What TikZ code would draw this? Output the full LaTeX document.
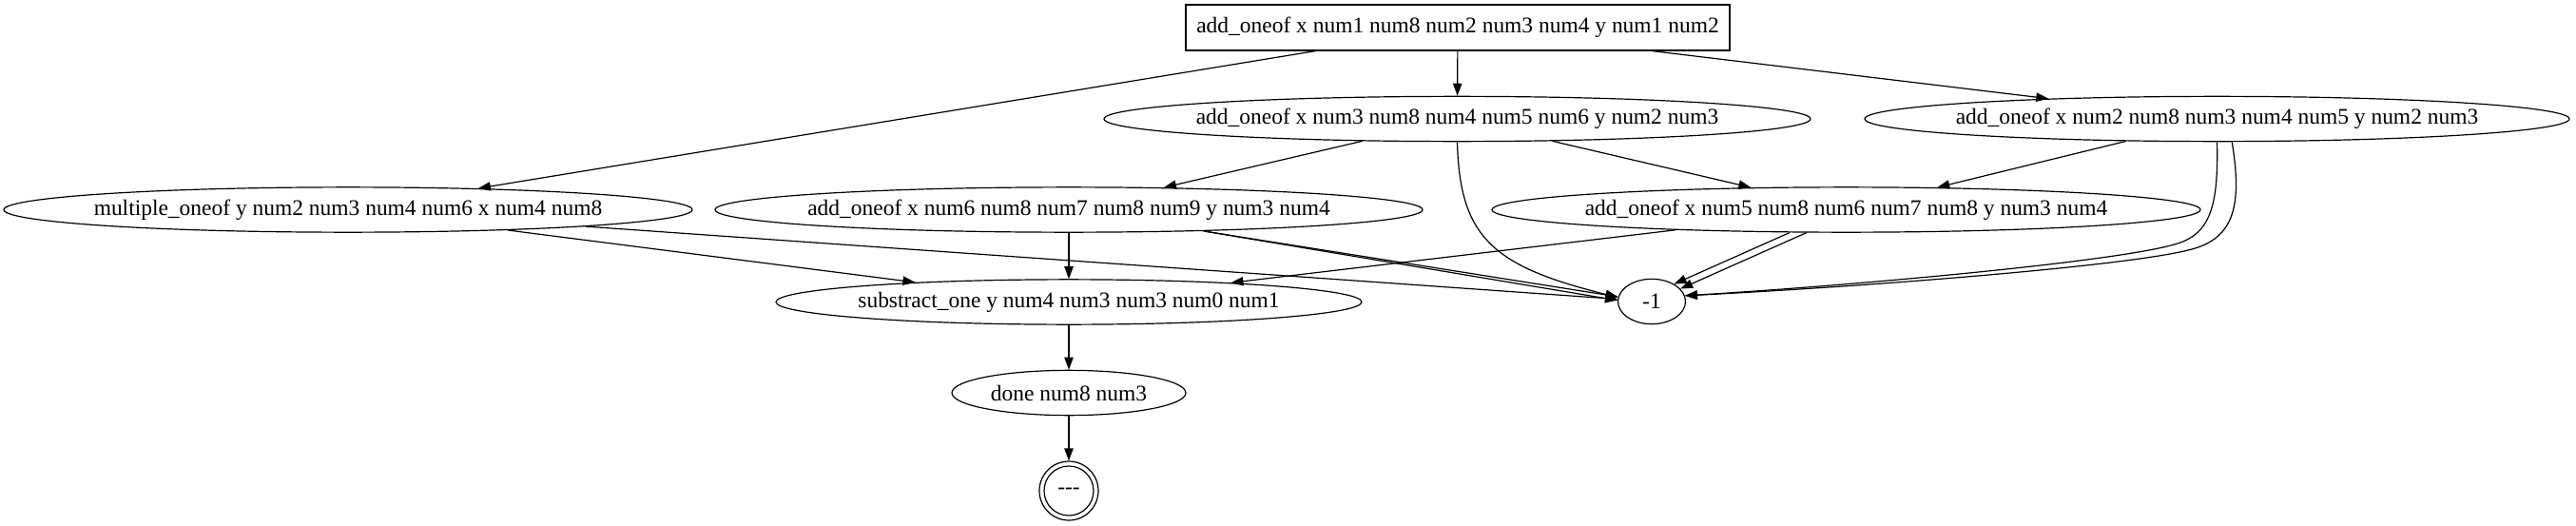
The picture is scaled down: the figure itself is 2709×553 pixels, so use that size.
\documentclass[tikz,border=0pt]{standalone}
\usepackage{fontspec}
\setmainfont{Liberation Serif}
\usetikzlibrary{shapes.geometric,arrows.meta}
\newcommand\lbl[1]{\makebox[0pt][c]{#1}}
\begin{document}
\begin{tikzpicture}[x=0.75pt,y=-0.75pt,
  every node/.style={font=\fontsize{17.6pt}{20pt}\selectfont, inner sep=0pt, line width=0.9pt},
  ell/.style={draw, ellipse, minimum height=35.5pt, minimum width=#1},
  sq/.style={draw, rectangle, minimum height=36pt, minimum width=#1},
  edge/.style={-{Triangle[length=9.75pt,width=7pt]}, line width=0.9pt}]

\useasboundingbox (0,0) rectangle (2709,553);

\node[sq=429pt] (top) at (1533,29) {\lbl{add\_oneof x num1 num8 num2 num3 num4 y num1 num2}};
\node[ell=557.25pt] (N2) at (1532.5,125) {\lbl{add\_oneof x num3 num8 num4 num5 num6 y num2 num3}};
\node[ell=555.75pt] (N3) at (2331.5,125) {\lbl{add\_oneof x num2 num8 num3 num4 num5 y num2 num3}};
\node[ell=543pt] (N4) at (366,220.5) {\lbl{multiple\_oneof y num2 num3 num4 num6 x num4 num8}};
\node[ell=558pt] (N5) at (1124,220.5) {\lbl{add\_oneof x num6 num8 num7 num8 num9 y num3 num4}};
\node[ell=558.75pt] (N6) at (1941.5,220.5) {\lbl{add\_oneof x num5 num8 num6 num7 num8 y num3 num4}};
\node[ell=462pt] (sub) at (1124,317.5) {\lbl{substract\_one y num4 num3 num3 num0 num1}};
\node[ell=53.25pt] (m1) at (1737,317) {\lbl{-1}};
\node[ell=184.5pt] (done) at (1124,413) {\lbl{done num8 num3}};
\node[draw, circle, minimum size=46.5pt] (final) at (1124,516) {\lbl{-{}-{}-}};
\draw[line width=0.9pt] (final.center) circle[radius=19.5pt];

\draw[edge] (top) -- (N4);
\draw[edge] (top) -- (N2);
\draw[edge] (top) -- (N3);
\draw[edge] (N2) -- (N5);
\draw[edge] (N2) -- (N6);
\draw[edge] (N3) -- (N6);
\draw[edge] (N2.south) .. controls (1535,250) and (1570,280) .. (m1.173);
\draw[edge] (N3.south) .. controls (2333,215) and (2325,245) .. (2290,256) .. controls (2230,275) and (1950,300) .. (m1.10);
\draw[edge] (N3.303) .. controls (2358,215) and (2350,250) .. (2305,262) .. controls (2240,280) and (1950,302) .. (m1.10);
\draw[edge] (N4) -- (m1);
\draw[edge] (N4) -- (sub);
\draw[edge] (N5) -- (sub);
\draw[edge] (N5.-9) -- (m1.172);
\draw[edge] (N5.-9.6) -- (m1.178);
\draw[edge] (N6.202) -- (m1.38);
\draw[edge] (N6.210) -- (m1.24);
\draw[edge] (N6) -- (sub);
\draw[edge] (sub) -- (done);
\draw[edge] (done) -- (final);
\end{tikzpicture}
\end{document}
